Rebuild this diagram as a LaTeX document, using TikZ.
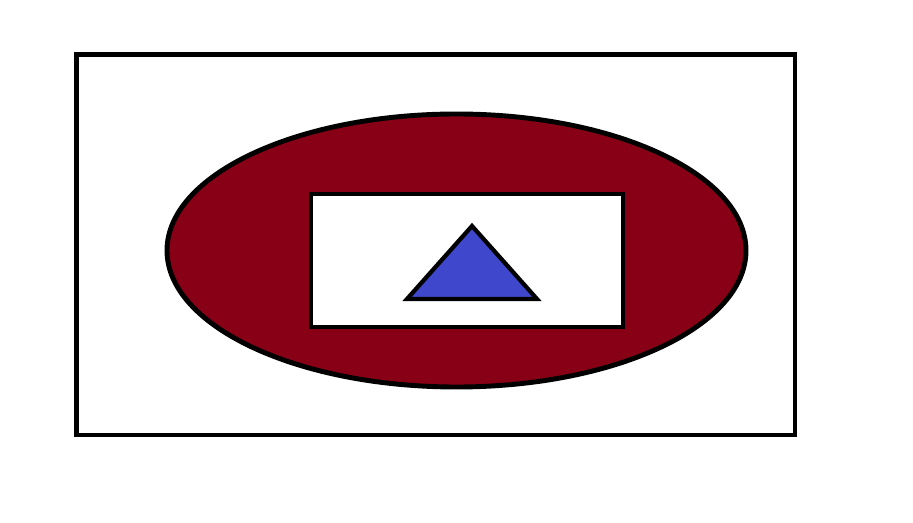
\documentclass[tikz,border=0pt]{standalone}
\usepackage{tikz}
\definecolor{darkred}{HTML}{880015}
\definecolor{indigo}{HTML}{3F48CC}
\tikzset{
  frame/.style={draw=black, line width=2.8pt},
}
\begin{document}
\begin{tikzpicture}[x=0.02cm, y=-0.02cm]
\useasboundingbox (0,0) rectangle (913,523);
\draw[frame] (76.5,54.5) rectangle (795,435);
\draw[frame, fill=darkred] (456.5,250.5) ellipse[x radius=289.5, y radius=136.5];
\draw[frame, fill=white] (311,194) rectangle (623,327);
\draw[frame, line width=2.4pt, fill=indigo, line join=miter] (407,299) -- (537,299) -- (472,226) -- cycle;
\end{tikzpicture}
\end{document}
